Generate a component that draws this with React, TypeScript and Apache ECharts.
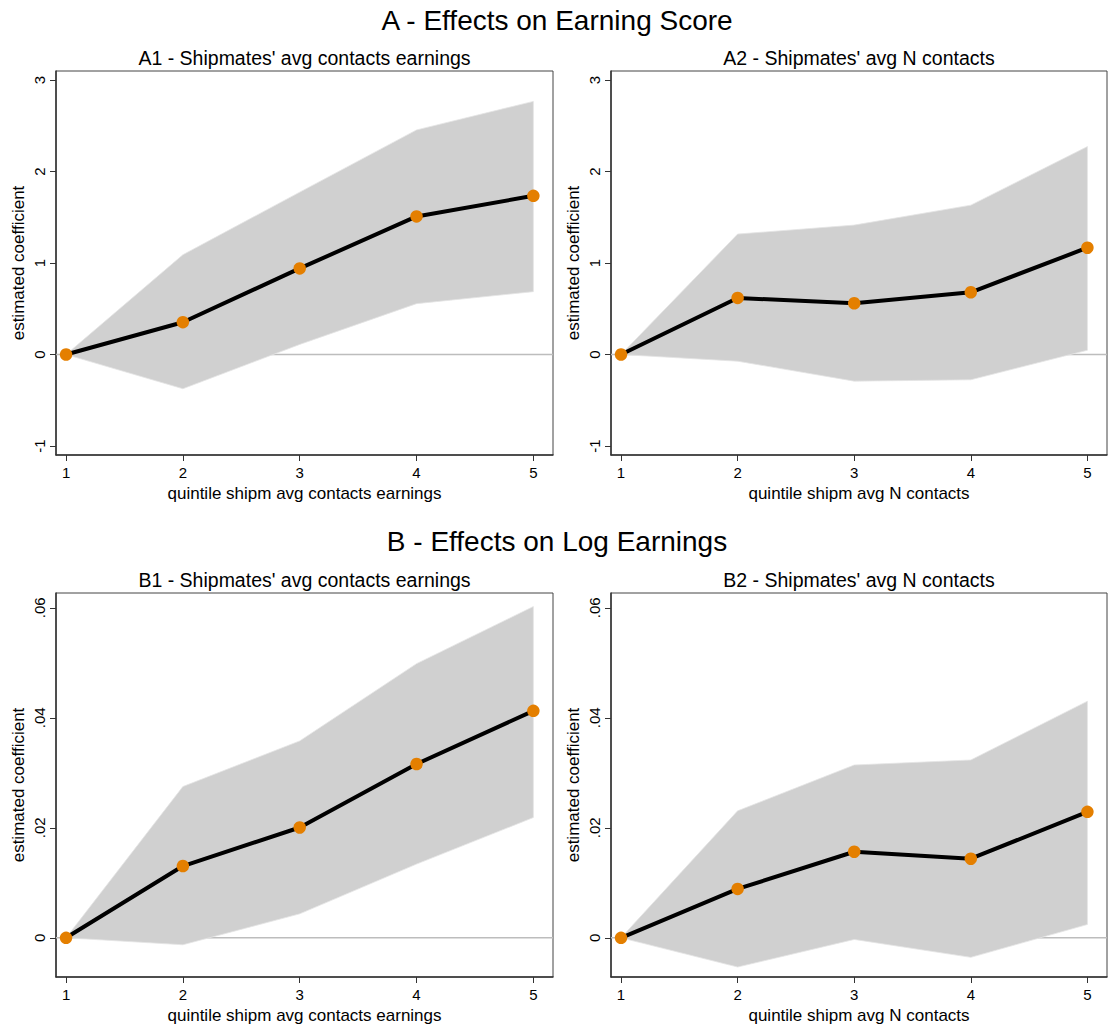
import React, { useEffect, useRef } from "react";
import * as echarts from "echarts";

// ---- data ----
const quintiles = [1, 2, 3, 4, 5];
const xTickLabels = ["1", "2", "3", "4", "5"];

const yTicksA = [-1, 0, 1, 2, 3];
const yTickLabelsA = ["-1", "0", "1", "2", "3"];
const yTicksB = [0, 0.02, 0.04, 0.06];
const yTickLabelsB = ["0", ".02", ".04", ".06"];

const a1Coef = [0, 0.353, 0.941, 1.509, 1.734];
const a1Lo = [0, -0.374, 0.11, 0.556, 0.687];
const a1Hi = [0, 1.09, 1.774, 2.454, 2.766];

const a2Coef = [0, 0.618, 0.56, 0.68, 1.167];
const a2Lo = [0, -0.073, -0.291, -0.276, 0.047];
const a2Hi = [0, 1.316, 1.414, 1.632, 2.272];

const b1Coef = [0, 0.01305, 0.02006, 0.0316, 0.04127];
const b1Lo = [0, -0.00127, 0.00435, 0.0134, 0.02187];
const b1Hi = [0, 0.0275, 0.0358, 0.04985, 0.06024];

const b2Coef = [0, 0.00888, 0.01565, 0.01438, 0.0229];
const b2Lo = [0, -0.00532, -0.0003, -0.00356, 0.00242];
const b2Hi = [0, 0.02308, 0.03142, 0.03233, 0.04302];

const mainTitles = ["A - Effects on Earning Score", "B - Effects on Log Earnings"];
const subTitles = [
  "A1 - Shipmates' avg contacts earnings",
  "A2 - Shipmates' avg N contacts",
  "B1 - Shipmates' avg contacts earnings",
  "B2 - Shipmates' avg N contacts",
];
const xNames = [
  "quintile shipm avg contacts earnings",
  "quintile shipm avg N contacts",
  "quintile shipm avg contacts earnings",
  "quintile shipm avg N contacts",
];
const yName = "estimated coefficient";

// ---- layout / style ----
const FONT = "Liberation Sans, Arial, sans-serif";
const X_MIN = 0.914;
const X_MAX = 5.168;
const RANGE_A = [-1.098, 3.098];
const RANGE_B = [-0.00713, 0.0627];
const grids = [
  { left: 56, top: 71, width: 497, height: 384 },
  { left: 611, top: 71, width: 496, height: 384 },
  { left: 56, top: 593, width: 497, height: 384 },
  { left: 611, top: 593, width: 496, height: 384 },
];
const BAND = "#d0d0d0";
const ZERO = "#bdbdbd";
const MARKER = "#e47f00";
const AXIS = "#333333";

const panels = [
  { coef: a1Coef, lo: a1Lo, hi: a1Hi, ticks: yTicksA, labels: yTickLabelsA, range: RANGE_A },
  { coef: a2Coef, lo: a2Lo, hi: a2Hi, ticks: yTicksA, labels: yTickLabelsA, range: RANGE_A },
  { coef: b1Coef, lo: b1Lo, hi: b1Hi, ticks: yTicksB, labels: yTickLabelsB, range: RANGE_B },
  { coef: b2Coef, lo: b2Lo, hi: b2Hi, ticks: yTicksB, labels: yTickLabelsB, range: RANGE_B },
];

function labelFor(ticks: number[], labels: string[]) {
  return (v: number) => {
    const i = ticks.findIndex((t) => Math.abs(t - v) < 1e-9);
    return i >= 0 ? labels[i] : "";
  };
}

function buildOption() {
  const xAxis: any[] = [];
  const yAxis: any[] = [];
  const series: any[] = [];
  panels.forEach((p, k) => {
    xAxis.push({
      gridIndex: k,
      type: "value",
      min: X_MIN,
      max: X_MAX,
      name: xNames[k],
      nameLocation: "middle",
      nameGap: 30,
      nameTextStyle: { fontSize: 17, color: "#000", fontFamily: FONT },
      axisLine: { show: true, onZero: false, lineStyle: { color: AXIS, width: 1.5 } },
      axisTick: { show: true, length: 6, customValues: quintiles, lineStyle: { color: AXIS, width: 1 } },
      axisLabel: {
        customValues: quintiles,
        formatter: labelFor(quintiles, xTickLabels),
        fontSize: 15,
        color: "#000",
        margin: 10,
        fontFamily: FONT,
      },
      splitLine: { show: false },
    });
    yAxis.push({
      gridIndex: k,
      type: "value",
      min: p.range[0],
      max: p.range[1],
      name: yName,
      nameLocation: "middle",
      nameRotate: 90,
      nameGap: 29,
      nameTextStyle: { fontSize: 17, color: "#000", fontFamily: FONT },
      axisLine: { show: true, onZero: false, lineStyle: { color: AXIS, width: 1.5 } },
      axisTick: { show: true, length: 6, customValues: p.ticks, lineStyle: { color: AXIS, width: 1 } },
      axisLabel: {
        customValues: p.ticks,
        formatter: labelFor(p.ticks, p.labels),
        rotate: 90,
        fontSize: 15,
        color: "#000",
        margin: 9,
        fontFamily: FONT,
      },
      splitLine: { show: false },
    });
    series.push({
      type: "custom",
      xAxisIndex: k,
      yAxisIndex: k,
      silent: true,
      z: 1,
      encode: { x: 0, y: [1, 2] },
      data: quintiles.map((q, i) => [q, p.lo[i], p.hi[i]]),
      renderItem: (params: any, api: any) => {
        if (params.dataIndex !== 0) return null;
        const up = quintiles.map((q, i) => api.coord([q, p.hi[i]]));
        const dn = quintiles.map((q, i) => api.coord([q, p.lo[i]])).reverse();
        const za = api.coord([X_MIN, 0]);
        const zb = api.coord([X_MAX, 0]);
        return {
          type: "group",
          children: [
            {
              type: "line",
              shape: { x1: za[0], y1: za[1], x2: zb[0], y2: zb[1] },
              style: { stroke: ZERO, lineWidth: 1.5 },
            },
            {
              type: "polygon",
              shape: { points: up.concat(dn) },
              style: { fill: BAND, stroke: "#e4e4e4", lineWidth: 0.8 },
            },
          ],
        };
      },
    });
    series.push({
      type: "line",
      xAxisIndex: k,
      yAxisIndex: k,
      z: 3,
      data: quintiles.map((q, i) => [q, p.coef[i]]),
      symbol: "circle",
      symbolSize: 12.5,
      showSymbol: true,
      itemStyle: { color: MARKER, borderWidth: 0 },
      lineStyle: { color: "#000", width: 4 },
    });
  });

  const graphic: any[] = [];
  const mainY = [20, 541];
  mainTitles.forEach((t, i) => {
    graphic.push({
      type: "text",
      x: 557,
      y: mainY[i],
      style: { text: t, fontSize: 28, fill: "#000", align: "center", verticalAlign: "middle", fontFamily: FONT },
    });
  });
  grids.forEach((g, k) => {
    graphic.push({
      type: "text",
      x: g.left + g.width / 2,
      y: g.top - 13,
      style: { text: subTitles[k], fontSize: 19.5, fill: "#000", align: "center", verticalAlign: "middle", fontFamily: FONT },
    });
  });

  return {
    animation: false,
    backgroundColor: "#ffffff",
    textStyle: { fontFamily: FONT },
    grid: grids.map((g) => ({ ...g, show: true, borderColor: "#444", borderWidth: 1, backgroundColor: "transparent", containLabel: false })),
    xAxis,
    yAxis,
    series,
    graphic,
  };
}

export default function App() {
  const ref = useRef<HTMLDivElement>(null);
  useEffect(() => {
    if (!ref.current) return;
    const chart = echarts.init(ref.current, null, { renderer: "svg" });
    chart.setOption(buildOption() as any);
    return () => chart.dispose();
  }, []);
  return (
    <div
      ref={ref}
      style={{ position: "fixed", left: 0, top: 0, width: 1112, height: 1030, background: "#fff" }}
    />
  );
}
